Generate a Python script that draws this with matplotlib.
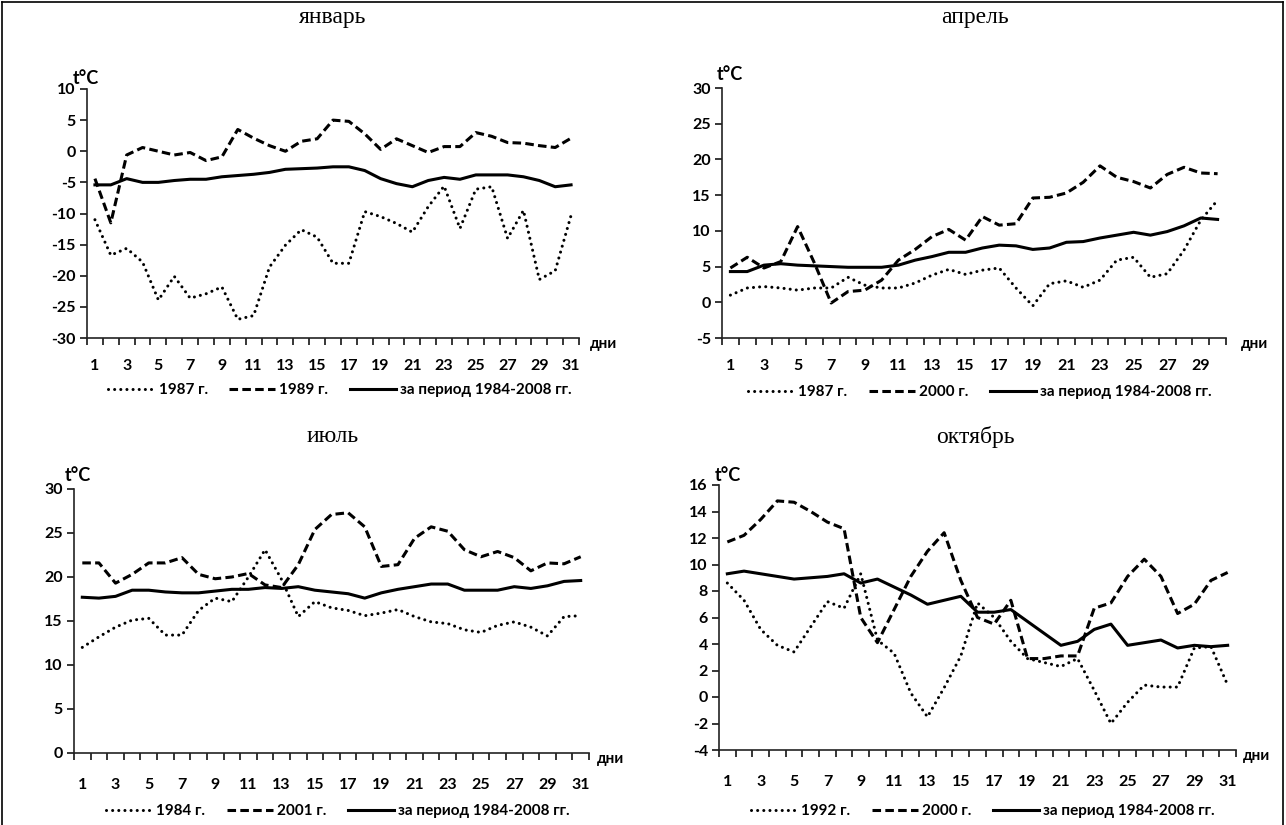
import matplotlib
matplotlib.use("Agg")
import matplotlib.pyplot as plt
from matplotlib.lines import Line2D

# ---------------- data ----------------
days31 = list(range(1, 32))
days30 = list(range(1, 31))

jan_1987 = [-11.0, -16.7, -15.6, -17.8, -23.9, -20.1, -23.6, -22.9, -21.8, -27.0, -26.4,
            -18.6, -15.1, -12.6, -13.8, -18.0, -18.0, -9.7, -10.5, -11.6, -13.0, -8.9,
            -5.6, -12.4, -6.1, -5.7, -14.0, -9.5, -20.6, -19.2, -10.3]
jan_1989 = [-4.4, -11.5, -0.6, 0.6, 0.0, -0.6, -0.2, -1.5, -0.9, 3.5, 2.1, 0.9, 0.0,
            1.6, 2.0, 5.0, 4.8, 2.8, 0.3, 2.0, 0.9, -0.2, 0.75, 0.75, 3.0, 2.4, 1.4,
            1.3, 0.9, 0.6, 2.1]
jan_mean = [-5.4, -5.4, -4.4, -5.0, -5.0, -4.7, -4.5, -4.5, -4.1, -3.9, -3.7, -3.4,
            -2.9, -2.8, -2.7, -2.5, -2.5, -3.1, -4.4, -5.2, -5.7, -4.7, -4.2, -4.5,
            -3.8, -3.8, -3.8, -4.1, -4.7, -5.7, -5.4]

apr_1987 = [1.0, 2.0, 2.2, 2.0, 1.7, 2.0, 2.0, 3.5, 2.4, 2.0, 2.0, 2.7, 3.8, 4.6, 3.9,
            4.5, 4.8, 2.0, -0.5, 2.6, 3.0, 2.1, 3.1, 5.9, 6.3, 3.5, 4.0, 7.3, 11.5, 14.3]
apr_2000 = [4.8, 6.3, 4.8, 5.7, 10.6, 5.5, -0.1, 1.5, 1.7, 3.1, 5.9, 7.4, 9.2, 10.2, 8.7,
            12.0, 10.8, 11.0, 14.6, 14.7, 15.3, 16.8, 19.1, 17.5, 16.9, 16.0, 17.9, 18.9,
            18.1, 18.0]
apr_mean = [4.3, 4.3, 5.2, 5.4, 5.2, 5.1, 5.0, 4.9, 4.9, 4.9, 5.2, 5.9, 6.4, 7.0, 7.0,
            7.6, 8.0, 7.9, 7.4, 7.6, 8.4, 8.5, 9.0, 9.4, 9.8, 9.4, 9.9, 10.7, 11.8, 11.6]

jul_1984 = [12.0, 13.2, 14.3, 15.1, 15.3, 13.4, 13.4, 16.2, 17.6, 17.2, 20.0, 23.1, 19.7,
            15.5, 17.2, 16.5, 16.2, 15.6, 15.9, 16.3, 15.5, 14.9, 14.7, 14.0, 13.7, 14.5,
            14.9, 14.3, 13.3, 15.5, 15.6]
jul_2001 = [21.6, 21.6, 19.3, 20.3, 21.6, 21.6, 22.2, 20.3, 19.8, 20.0, 20.4, 19.1, 18.8,
            21.4, 25.4, 27.1, 27.3, 25.7, 21.2, 21.4, 24.4, 25.7, 25.2, 23.1, 22.3, 22.9,
            22.2, 20.7, 21.6, 21.5, 22.3]
jul_mean = [17.7, 17.6, 17.8, 18.5, 18.5, 18.3, 18.2, 18.2, 18.4, 18.6, 18.6, 18.8, 18.7,
            18.9, 18.5, 18.3, 18.1, 17.6, 18.2, 18.6, 18.9, 19.2, 19.2, 18.5, 18.5, 18.5,
            18.9, 18.7, 19.0, 19.5, 19.6]

oct_1992 = [8.6, 7.3, 5.1, 3.9, 3.4, 5.3, 7.2, 6.7, 9.3, 4.3, 3.3, 0.3, -1.5, 0.7, 3.1,
            7.1, 6.0, 4.2, 2.9, 2.6, 2.3, 2.9, 0.5, -2.0, -0.4, 0.9, 0.75, 0.75, 3.7,
            3.8, 0.9]
oct_2000 = [11.7, 12.2, 13.4, 14.8, 14.7, 14.0, 13.2, 12.7, 6.0, 4.1, 6.6, 9.1, 11.0,
            12.4, 8.8, 6.0, 5.5, 7.3, 2.9, 2.9, 3.1, 3.1, 6.7, 7.1, 9.1, 10.4, 9.1, 6.3,
            7.0, 8.8, 9.4]
oct_mean = [9.3, 9.5, 9.3, 9.1, 8.9, 9.0, 9.1, 9.3, 8.6, 8.9, 8.3, 7.7, 7.0, 7.3, 7.6,
            6.4, 6.4, 6.6, 5.7, 4.8, 3.9, 4.2, 5.1, 5.5, 3.9, 4.1, 4.3, 3.7, 3.9, 3.8, 3.9]

titles = ["январь", "апрель", "июль", "октябрь"]
legend_jan = ["1987 г.", "1989 г.", "за период 1984-2008 гг."]
legend_apr = ["1987 г.", "2000 г.", "за период 1984-2008 гг."]
legend_jul = ["1984 г.", "2001 г.", "за период 1984-2008 гг."]
legend_oct = ["1992 г.", "2000 г.", "за период 1984-2008 гг."]
yticks_jan = [-30, -25, -20, -15, -10, -5, 0, 5, 10]
yticks_apr = [-5, 0, 5, 10, 15, 20, 25, 30]
yticks_jul = [0, 5, 10, 15, 20, 25, 30]
yticks_oct = [-4, -2, 0, 2, 4, 6, 8, 10, 12, 14, 16]

# ---------------- styling ----------------
W, H = 1286, 825
SANS = ["Lato", "DejaVu Sans"]
SERIF = ["Liberation Serif", "DejaVu Serif"]
DOT = (0, (0.01, 2.0))
DASH = (0, (2.8, 1.4))
LW = 2.2

fig = plt.figure(figsize=(W / 100, H / 100), dpi=100)


def rect(l, r, t, b):
    return [l / W, 1 - b / H, (r - l) / W, (b - t) / H]


def fx(x):
    return x / W


def fy(y):
    return 1 - y / H


# border of the figure (left, top, right)
fig.add_artist(Line2D([fx(2), fx(2)], [0, fy(2)], color="black", lw=1.2))
fig.add_artist(Line2D([fx(2), fx(1283)], [fy(2), fy(2)], color="black", lw=1.2))
fig.add_artist(Line2D([fx(1283), fx(1283)], [0, fy(2)], color="black", lw=1.2))

panels = [
    dict(box=(87, 579, 89, 338), days=days31, series=(jan_1987, jan_1989, jan_mean),
         labels=legend_jan, yticks=yticks_jan, title=titles[0], tpos=(333, 18),
         tc=(73, 78), dni=(590, 344), leg=(340, 390), xpad=15),
    dict(box=(722, 1226, 88, 338), days=days30, series=(apr_1987, apr_2000, apr_mean),
         labels=legend_apr, yticks=yticks_apr, title=titles[1], tpos=(975, 18),
         tc=(717, 75), dni=(1241, 344), leg=(980, 392), xpad=15),
    dict(box=(74, 589, 489, 753), days=days31, series=(jul_1984, jul_2001, jul_mean),
         labels=legend_jul, yticks=yticks_jul, title=titles[2], tpos=(333, 437),
         tc=(65, 475), dni=(597, 759), leg=(338, 811), xpad=18),
    dict(box=(719, 1236, 485, 750), days=days31, series=(oct_1992, oct_2000, oct_mean),
         labels=legend_oct, yticks=yticks_oct, title=titles[3], tpos=(975, 437),
         tc=(715, 475), dni=(1243, 756), leg=(983, 811), xpad=18),
]

for p in panels:
    l, r, t, b = p["box"]
    ax = fig.add_axes(rect(l, r, t, b))
    days = p["days"]
    n = len(days)
    s1, s2, s3 = p["series"]
    h1, = ax.plot(days, s1, color="black", lw=LW, linestyle=DOT, dash_capstyle="round",
                  label=p["labels"][0])
    h2, = ax.plot(days, s2, color="black", lw=LW, linestyle=DASH,
                  label=p["labels"][1])
    h3, = ax.plot(days, s3, color="black", lw=LW, linestyle="-",
                  solid_joinstyle="round", label=p["labels"][2])

    ax.set_xlim(0.5, n + 0.5)
    ax.set_ylim(p["yticks"][0], p["yticks"][-1])
    ax.set_yticks(p["yticks"])
    ax.set_yticklabels([str(v) for v in p["yticks"]])
    ax.set_xticks(days[::2])
    ax.set_xticklabels([str(d) for d in days[::2]])
    ax.set_xticks([d + 0.5 for d in range(0, n + 1)], minor=True)
    ax.tick_params(axis="x", which="major", length=0, pad=p["xpad"])
    ax.tick_params(axis="x", which="minor", length=5, width=1.1, direction="out")
    ax.tick_params(axis="y", which="major", length=5, width=1.1, direction="out", pad=3)
    for lab in ax.get_xticklabels() + ax.get_yticklabels():
        lab.set_fontfamily(SANS)
        lab.set_fontweight("bold")
        lab.set_fontsize(11.5)
    for side in ("top", "right"):
        ax.spines[side].set_visible(False)
    for side in ("left", "bottom"):
        ax.spines[side].set_linewidth(1.2)
        ax.spines[side].set_color("#222222")
    ax.patch.set_alpha(0)

    fig.text(fx(p["tpos"][0]), fy(p["tpos"][1]), p["title"], family=SERIF,
             fontsize=17, ha="center", va="center")
    fig.text(fx(p["tc"][0]), fy(p["tc"][1]), "t°C", family=SANS, fontweight="bold",
             fontsize=13, ha="left", va="center")
    fig.text(fx(p["dni"][0]), fy(p["dni"][1]), "дни", family=SANS, fontweight="bold",
             fontsize=11, ha="left", va="center")

    leg = fig.legend(handles=[h1, h2, h3], loc="center",
                     bbox_to_anchor=(fx(p["leg"][0]), fy(p["leg"][1])), ncol=3,
                     frameon=False, handlelength=3.0, handletextpad=0.3,
                     columnspacing=1.4, borderpad=0,
                     prop=dict(family=SANS, weight="bold", size=11))

fig.savefig("out.png", dpi=100)
